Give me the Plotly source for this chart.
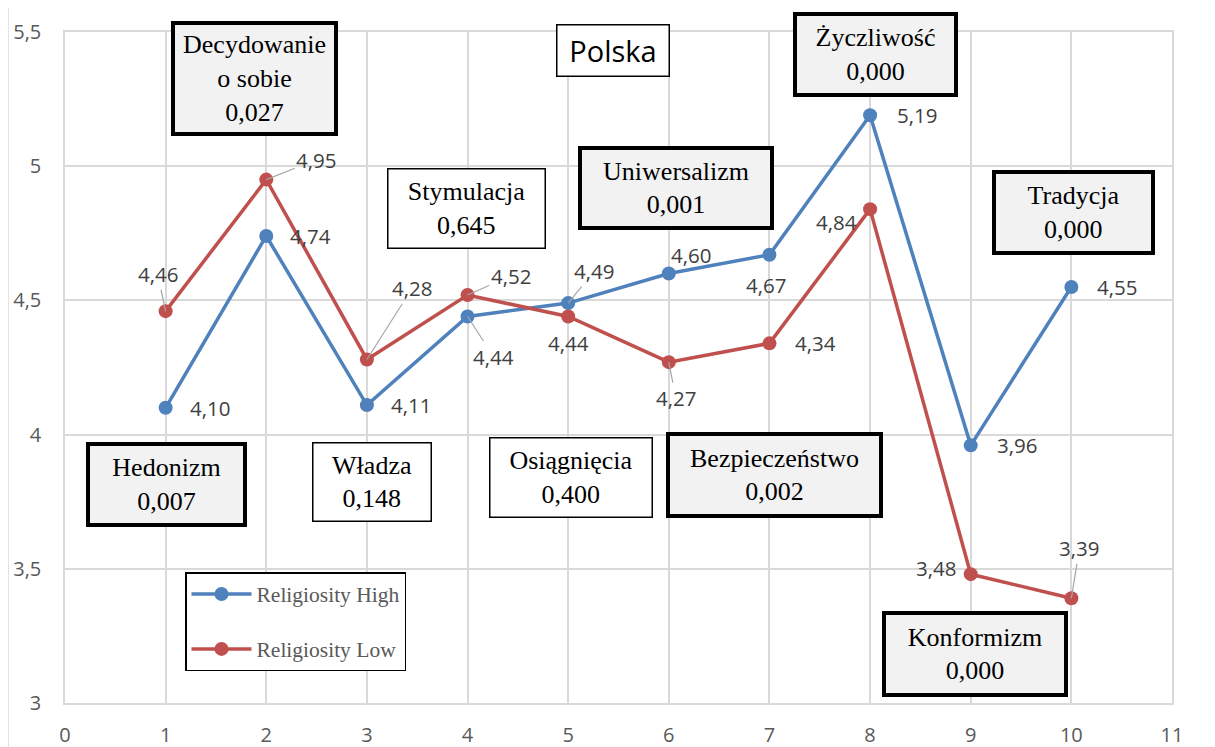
import plotly.graph_objects as go

# ---- data ----
x_vals = [1, 2, 3, 4, 5, 6, 7, 8, 9, 10]
high = [4.10, 4.74, 4.11, 4.44, 4.49, 4.60, 4.67, 5.19, 3.96, 4.55]
low = [4.46, 4.95, 4.28, 4.52, 4.44, 4.27, 4.34, 4.84, 3.48, 3.39]
high_labels = ["4,10", "4,74", "4,11", "4,44", "4,49", "4,60", "4,67", "5,19", "3,96", "4,55"]
low_labels = ["4,46", "4,95", "4,28", "4,52", "4,44", "4,27", "4,34", "4,84", "3,48", "3,39"]
x_ticks = [0, 1, 2, 3, 4, 5, 6, 7, 8, 9, 10, 11]
y_ticks = [3, 3.5, 4, 4.5, 5, 5.5]
y_tick_text = ["3", "3,5", "4", "4,5", "5", "5,5"]

box_texts = [
    "Decydowanie<br>o sobie<br>0,027", "Hedonizm<br>0,007", "Władza<br>0,148",
    "Stymulacja<br>0,645", "Osiągnięcia<br>0,400", "Uniwersalizm<br>0,001",
    "Bezpieczeństwo<br>0,002", "Życzliwość<br>0,000", "Tradycja<br>0,000",
    "Konformizm<br>0,000",
]
title_text = "Polska"

# ---- styling / layout ----
W, H = 1215, 747
OFF = 8  # page body margin
L, R, T, B = 65, 1172, 32, 703  # target plot area on the page
BLUE = "#4f81bd"
RED = "#c0504d"
GRID = "#d9d9d9"
SERIF = "Times New Roman, Liberation Serif, serif"
SANS = "Open Sans, Calibri, sans-serif"


def px(xp):
    return (xp - L) / (R - L)


def py(yp):
    return (B - yp) / (B - T)


# label offsets in pixels (dx, dy screen), leader flag
high_off = [(44, 0, 0), (44, 0, 0), (44, 0, 0), (26, 40, 1), (26, -32, 1),
            (22, -19, 0), (-3, 30, 0), (47, 0, 0), (46, 0, 0), (46, 0, 0)]
low_off = [(-8, -37, 1), (50, -20, 1), (45, -71, 1), (43, -19, 1), (0, 26, 0),
           (7, 36, 1), (46, 0, 0), (-34, 13, 0), (-35, -6, 0), (8, -50, 1)]

# box geometry: left, top, right, bottom, thick
box_geom = [
    (171, 21, 338, 136, True), (86, 442, 247, 527, True), (312, 442, 432, 522, False),
    (387, 168, 546, 249, False), (489, 437, 653, 518, False), (578, 146, 774, 230, True),
    (666, 432, 883, 518, True), (793, 12, 958, 97, True), (992, 170, 1155, 255, True),
    (882, 611, 1068, 697, True),
]

fig = go.Figure()
fig.add_trace(go.Scatter(
    x=x_vals, y=high, mode="lines+markers", name="Religiosity High",
    line=dict(color=BLUE, width=3.5), marker=dict(size=14, color=BLUE),
    legendgroup="h",
))
fig.add_trace(go.Scatter(
    x=x_vals, y=low, mode="lines+markers", name="Religiosity Low",
    line=dict(color=RED, width=3.5), marker=dict(size=14, color=RED),
    legendgroup="l",
))

annotations = []
for xs, ys, labs, offs in [(x_vals, high, high_labels, high_off), (x_vals, low, low_labels, low_off)]:
    for xv, yv, lab, (dx, dy, lead) in zip(xs, ys, labs, offs):
        if lead:
            annotations.append(dict(
                x=xv, y=yv, xref="x", yref="y", text=lab, showarrow=True,
                arrowhead=0, arrowwidth=1.2, arrowcolor="#a6a6a6", ax=dx, ay=dy,
                standoff=0, font=dict(family=SANS, size=20.5, color="#404040"),
            ))
        else:
            annotations.append(dict(
                x=xv, y=yv, xref="x", yref="y", text=lab, showarrow=False,
                xshift=dx, yshift=-dy, font=dict(family=SANS, size=20.5, color="#404040"),
            ))

for text, (l, t, r, b, thick) in zip(box_texts, box_geom):
    bw = 4 if thick else 1.5
    annotations.append(dict(
        x=px((l + r) / 2), y=py((t + b) / 2), xref="paper", yref="paper",
        xanchor="center", yanchor="middle", showarrow=False, text=text,
        width=r - l - 2 * bw, height=b - t - 2 * bw, borderpad=0,
        bordercolor="black", borderwidth=bw,
        bgcolor="#f2f2f2" if thick else "white",
        align="center", valign="middle",
        font=dict(family=SERIF, size=26, color="black"),
    ))

# title box
annotations.append(dict(
    x=px(613), y=py(50.5), xref="paper", yref="paper", xanchor="center", yanchor="middle",
    showarrow=False, text=title_text, width=114 - 3, height=53 - 3, borderpad=0,
    bordercolor="black", borderwidth=1.5, bgcolor="white",
    font=dict(family=SANS, size=29, color="black"),
))

shapes = [dict(
    type="rect", xref="paper", yref="paper", x0=px(8), x1=px(1260), y0=py(7), y1=py(780),
    line=dict(color=GRID, width=1.5), fillcolor="rgba(0,0,0,0)", layer="below",
)]

fig.update_layout(
    width=W, height=H,
    margin=dict(l=L - OFF, r=W - R + OFF, t=T - OFF, b=H - B + OFF, autoexpand=False),
    paper_bgcolor="white", plot_bgcolor="white",
    annotations=annotations, shapes=shapes,
    showlegend=True,
    legend=dict(
        x=px(185), y=py(572), xanchor="left", yanchor="top",
        bordercolor="black", borderwidth=1.5, bgcolor="white",
        font=dict(family=SERIF, size=21.5, color="#595959"),
        tracegroupgap=24, itemwidth=60, entrywidth=215, entrywidthmode="pixels",
    ),
    xaxis=dict(
        range=[0, 11], tickvals=x_ticks, showgrid=True, gridcolor=GRID, gridwidth=1.5,
        zeroline=False, showline=True, linecolor=GRID, linewidth=1.5, mirror=True,
        tickfont=dict(family=SANS, size=20, color="#595959"), ticks="",
        ticklabelstandoff=13, automargin=False,
    ),
    yaxis=dict(
        range=[3, 5.5], tickvals=y_ticks, ticktext=y_tick_text, showgrid=True,
        gridcolor=GRID, gridwidth=1.5, zeroline=False, showline=True, linecolor=GRID,
        linewidth=1.5, mirror=True,
        tickfont=dict(family=SANS, size=20, color="#595959"), ticks="",
        ticklabelstandoff=18, automargin=False,
    ),
)

fig.write_html("out.html")
